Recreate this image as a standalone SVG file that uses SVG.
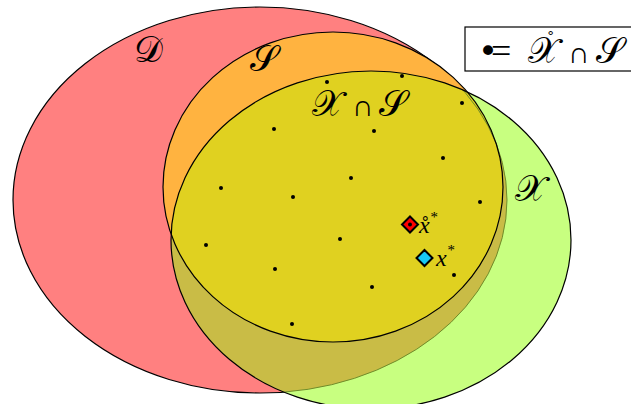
<svg xmlns="http://www.w3.org/2000/svg" width="631" height="404" viewBox="0 0 631 404">
<style>
.out{fill:none;stroke:#000;stroke-width:1.2}
.dot{fill:#000}
.cal{font-family:"DejaVu Serif","DejaVu Sans","Noto Sans",serif}
.it{font-family:"Liberation Serif",serif;font-style:italic}
.rm{font-family:"Liberation Serif",serif}
</style>
<defs>
<ellipse id="eD" cx="260" cy="200" rx="247" ry="193"/>
<ellipse id="eS" cx="333" cy="187" rx="170" ry="155"/>
<ellipse id="eX" cx="371" cy="240" rx="200" ry="169"/>
<clipPath id="cD"><use href="#eD"/></clipPath>
<clipPath id="cS"><use href="#eS"/></clipPath>
<clipPath id="cX"><use href="#eX"/></clipPath>
</defs>
<g id="set-D">
<use href="#eD" fill="#ff8080"/>
<use href="#eD" class="out"/>
</g>
<g id="set-S">
<use href="#eS" fill="#ffb340"/>
</g>
<g id="set-X">
<use href="#eX" fill="#c8ff80"/>
<use href="#eX" fill="#c9bc46" clip-path="url(#cD)"/>
<use href="#eX" fill="#e0d120" clip-path="url(#cS)"/>
<use href="#eD" fill="none" stroke="#6f8c2a" stroke-width="1" clip-path="url(#cX)"/>
<use href="#eX" class="out"/>
</g>
<g id="set-S-outline">
<use href="#eS" class="out"/>
</g>
<g id="labels">
<text class="cal" x="134" y="62" font-size="36">𝒟</text>
<text class="cal" x="250" y="71" font-size="36">𝒮</text>
<text class="cal" x="515" y="201" font-size="36">𝒳</text>
<text y="116" font-size="36"><tspan class="cal" x="312">𝒳</tspan><tspan class="rm" x="352" font-size="30">∩</tspan><tspan class="cal" x="379">𝒮</tspan></text>
</g>
<g id="points">
<circle class="dot" cx="327" cy="82" r="2"/>
<circle class="dot" cx="402" cy="76" r="2"/>
<circle class="dot" cx="462" cy="103" r="2"/>
<circle class="dot" cx="274" cy="129" r="2"/>
<circle class="dot" cx="374" cy="131" r="2"/>
<circle class="dot" cx="443" cy="158" r="2"/>
<circle class="dot" cx="351" cy="178" r="2"/>
<circle class="dot" cx="221" cy="188" r="2"/>
<circle class="dot" cx="293" cy="197" r="2"/>
<circle class="dot" cx="480" cy="202" r="2"/>
<circle class="dot" cx="340" cy="239" r="2"/>
<circle class="dot" cx="206" cy="245" r="2"/>
<circle class="dot" cx="275" cy="269" r="2"/>
<circle class="dot" cx="454" cy="275" r="2"/>
<circle class="dot" cx="372" cy="287" r="2"/>
<circle class="dot" cx="292" cy="324" r="2"/>
</g>
<g id="x-ring-star">
<path d="M410 216.5 L418 224.5 L410 232.5 L402 224.5 Z" fill="#ff0000" stroke="#000" stroke-width="2"/>
<circle class="dot" cx="410" cy="224.5" r="2"/>
<text class="it" x="419" y="233" font-size="24">x&#x30A;<tspan font-size="15" dy="-11">*</tspan></text>
</g>
<g id="x-star">
<path d="M424.5 250 L432.5 258 L424.5 266 L416.5 258 Z" fill="#18c8f5" stroke="#000" stroke-width="2"/>
<text class="it" x="436" y="266" font-size="24">x<tspan font-size="15" dy="-11">*</tspan></text>
</g>
<g id="legend">
<rect x="465" y="27" width="170" height="44" fill="#fff" stroke="#000" stroke-width="1.2"/>
<text y="63"><tspan font-family="DejaVu Sans, sans-serif" x="478" font-size="34">•</tspan><tspan class="rm" x="491" font-size="36">=</tspan><tspan class="cal" x="528" font-size="36">𝒳</tspan><tspan class="rm" x="547" y="46" font-size="22">˚</tspan><tspan class="rm" x="568" y="63" font-size="30">∩</tspan><tspan class="cal" x="596" font-size="36">𝒮</tspan></text>
</g>
</svg>
